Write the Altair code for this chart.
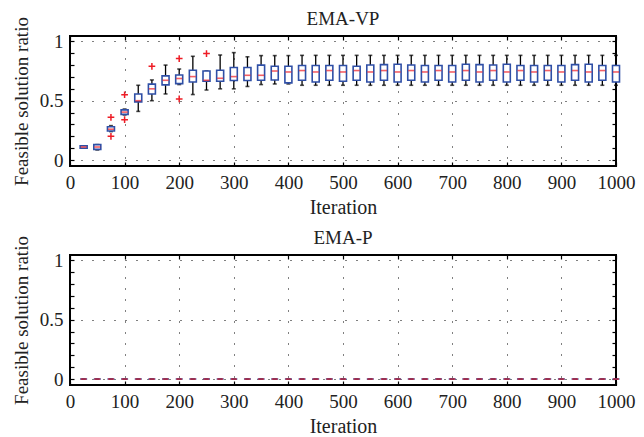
import altair as alt
import pandas as pd

FONT = "Liberation Serif"

iterations = [25, 50, 75, 100, 125, 150, 175, 200, 225, 250,
              275, 300, 325, 350, 375, 400, 425, 450, 475, 500,
              525, 550, 575, 600, 625, 650, 675, 700, 725, 750,
              775, 800, 825, 850, 875, 900, 925, 950, 975, 1000]

vp_whisker_low = [0.10, 0.085, 0.24, 0.38, 0.41, 0.50, 0.557, 0.636, 0.552, 0.59,
                  0.60, 0.60, 0.62, 0.636, 0.641, 0.641, 0.63, 0.63, 0.63, 0.63,
                  0.63, 0.63, 0.63, 0.63, 0.63, 0.63, 0.63, 0.63, 0.63, 0.63,
                  0.63, 0.63, 0.63, 0.63, 0.63, 0.63, 0.63, 0.63, 0.63, 0.63]
vp_q1 = [0.10, 0.09, 0.245, 0.385, 0.49, 0.557, 0.633, 0.644, 0.658, 0.664,
         0.664, 0.67, 0.67, 0.672, 0.675, 0.65, 0.672, 0.658, 0.672, 0.664,
         0.672, 0.658, 0.672, 0.658, 0.672, 0.658, 0.672, 0.658, 0.672, 0.658,
         0.672, 0.658, 0.672, 0.658, 0.672, 0.658, 0.672, 0.658, 0.672, 0.658]
vp_median = [0.11, 0.11, 0.26, 0.404, 0.50, 0.60, 0.672, 0.687, 0.703, 0.672,
             0.689, 0.703, 0.714, 0.714, 0.75, 0.742, 0.754, 0.742, 0.754, 0.742,
             0.754, 0.742, 0.754, 0.742, 0.754, 0.742, 0.754, 0.742, 0.754, 0.742,
             0.754, 0.742, 0.754, 0.742, 0.754, 0.742, 0.754, 0.742, 0.754, 0.742]
vp_q3 = [0.12, 0.13, 0.28, 0.423, 0.557, 0.64, 0.709, 0.717, 0.756, 0.75,
         0.756, 0.78, 0.78, 0.80, 0.79, 0.79, 0.796, 0.796, 0.796, 0.796,
         0.79, 0.801, 0.804, 0.807, 0.801, 0.796, 0.796, 0.796, 0.807, 0.804,
         0.801, 0.807, 0.796, 0.796, 0.796, 0.796, 0.804, 0.807, 0.796, 0.796]
vp_whisker_high = [0.12, 0.13, 0.29, 0.43, 0.63, 0.675, 0.80, 0.767, 0.874, 0.75,
                   0.885, 0.905, 0.87, 0.88, 0.88, 0.88, 0.882, 0.882, 0.882, 0.882,
                   0.882, 0.882, 0.882, 0.882, 0.882, 0.882, 0.882, 0.882, 0.882, 0.882,
                   0.882, 0.882, 0.882, 0.882, 0.882, 0.882, 0.882, 0.882, 0.882, 0.882]

vp_outlier_iter = [75, 75, 100, 100, 150, 200, 200, 250]
vp_outlier_val = [0.36, 0.20, 0.55, 0.34, 0.79, 0.855, 0.515, 0.897]

p_whisker_low = [0.0] * 40
p_q1 = [0.0] * 40
p_median = [0.0] * 40
p_q3 = [0.0] * 40
p_whisker_high = [0.0] * 40

x_ticks = [0, 100, 200, 300, 400, 500, 600, 700, 800, 900, 1000]
y_ticks = [0, 0.1, 0.2, 0.3, 0.4, 0.5, 0.6, 0.7, 0.8, 0.9, 1]

BLUE = "#2f4fa6"
RED = "#ee1c25"
TICK = 4

xscale = alt.Scale(domain=[0, 1000], nice=False, zero=False, padding=0)
yscale = alt.Scale(domain=[-0.05, 1.045], nice=False, zero=False, padding=0)

label_expr = "datum.value == 0 ? '0' : (datum.value == 0.5 ? '0.5' : (datum.value == 1 ? '1' : ''))"
grid_cond = {"condition": {"test": "datum.value == 0 || datum.value == 0.5 || datum.value == 1",
                           "value": 1}, "value": 0}

x_axis = alt.Axis(values=x_ticks, orient="bottom", title="Iteration", format="d", grid=True,
                  gridDash=[1, 10], gridColor="black", gridWidth=1, gridOpacity=1,
                  tickSize=TICK, offset=-TICK, tickColor="black", tickWidth=1.2,
                  domain=False, labelPadding=7, labelFont=FONT, labelFontSize=19,
                  labelColor="#222", titleFont=FONT, titleFontSize=20,
                  titleFontWeight="normal", titleColor="#222", titlePadding=5,
                  labelFlush=False, minExtent=0)
y_axis = alt.Axis(values=y_ticks, orient="left", title="Feasible solution ratio",
                  labelExpr=label_expr,
                  grid=True, gridDash=[1, 10], gridColor="black", gridWidth=1,
                  gridOpacity=grid_cond,
                  tickSize=TICK, offset=-TICK, tickColor="black", tickWidth=1.2,
                  domain=False, labelPadding=7, labelFont=FONT, labelFontSize=19,
                  labelColor="#222", titleFont=FONT, titleFontSize=19,
                  titleFontWeight="normal", titleColor="#222", titlePadding=8,
                  minExtent=0)
x_axis_top = alt.Axis(values=x_ticks, orient="top", labels=False, title=None, grid=False,
                      tickSize=TICK, offset=-TICK, tickColor="black", tickWidth=1.2,
                      domain=False, minExtent=0, maxExtent=0)
y_axis_right = alt.Axis(values=y_ticks, orient="right", labels=False, title=None, grid=False,
                        tickSize=TICK, offset=-TICK, tickColor="black", tickWidth=1.2,
                        domain=False, minExtent=0, maxExtent=0)


def panel(title, wl, q1, med, q3, wh, out_iter, out_val):
    df = pd.DataFrame({"iteration": iterations, "wl": wl, "q1": q1, "med": med,
                       "q3": q3, "wh": wh})
    base = alt.Chart(df)
    xn = alt.X("iteration:Q", scale=xscale, axis=None)
    whisk = base.mark_rule(color="black", strokeWidth=1.3).encode(
        x=alt.X("iteration:Q", scale=xscale, axis=x_axis),
        y=alt.Y("wl:Q", scale=yscale, axis=y_axis), y2="wh:Q")
    cap_lo = base.mark_tick(orient="horizontal", color="black", size=4, thickness=1.6).encode(
        x=xn, y=alt.Y("wl:Q", scale=yscale, axis=None))
    cap_hi = base.mark_tick(orient="horizontal", color="black", size=4, thickness=1.6).encode(
        x=xn, y=alt.Y("wh:Q", scale=yscale, axis=None))
    box = base.mark_bar(size=7, fill="white", stroke=BLUE, strokeWidth=1.6).encode(
        x=xn, y=alt.Y("q1:Q", scale=yscale, axis=None), y2="q3:Q")
    median = base.mark_tick(orient="horizontal", color=RED, size=6, thickness=1.6).encode(
        x=xn, y=alt.Y("med:Q", scale=yscale, axis=None))
    mirror = base.mark_point(opacity=0).encode(
        x=alt.X("iteration:Q", scale=xscale, axis=x_axis_top),
        y=alt.Y("med:Q", scale=yscale, axis=y_axis_right))
    layers = [whisk, cap_lo, cap_hi, box, median, mirror]
    if out_iter:
        odf = pd.DataFrame({"iteration": out_iter, "val": out_val})
        outl = alt.Chart(odf).mark_point(shape="M-1,0L1,0M0,-1L0,1", size=45, filled=False,
                                         stroke=RED, strokeWidth=1.5, opacity=1).encode(
            x=xn, y=alt.Y("val:Q", scale=yscale, axis=None))
        layers.append(outl)
    return alt.layer(*layers).resolve_axis(x="independent", y="independent").properties(
        width=546, height=130,
        title=alt.TitleParams(title, font=FONT, fontSize=19, fontWeight="normal",
                              color="#222", offset=-12))


top = panel("EMA-VP", vp_whisker_low, vp_q1, vp_median, vp_q3, vp_whisker_high,
            vp_outlier_iter, vp_outlier_val)
bottom = panel("EMA-P", p_whisker_low, p_q1, p_median, p_q3, p_whisker_high, [], [])

chart = alt.vconcat(top, bottom, spacing=9).properties(
    padding={"left": 3, "top": 0, "right": 0, "bottom": 0}
).configure_view(stroke="black", strokeWidth=2)

chart.save("out.html", embed_options={"renderer": "svg", "actions": False})
